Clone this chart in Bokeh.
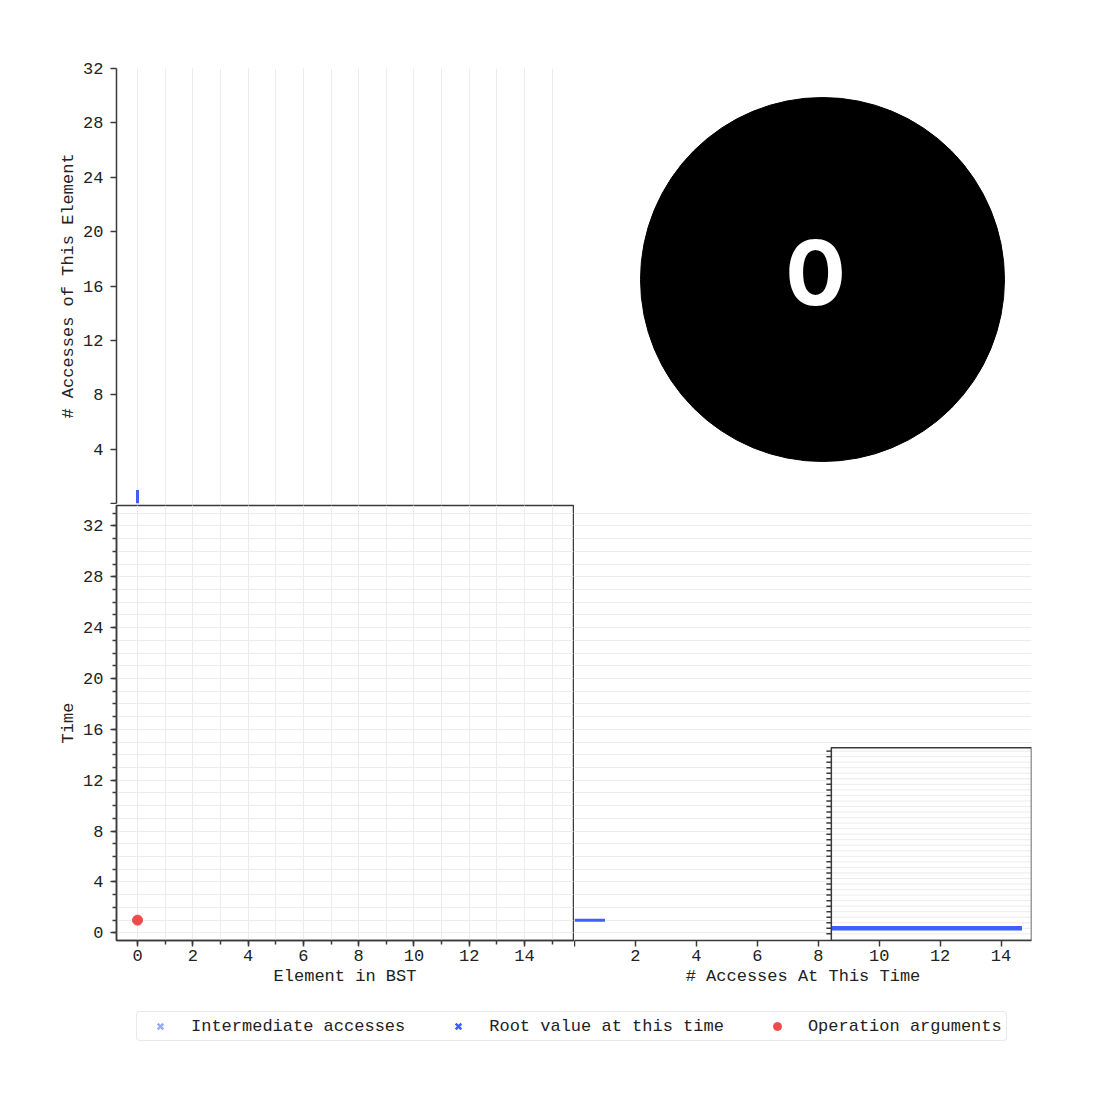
from bokeh.plotting import figure
from bokeh.layouts import column, row
from bokeh.models import Range1d, SingleIntervalTicker, Grid, Legend, LegendItem
from bokeh.core.properties import value
from bokeh.embed import file_html
from bokeh.resources import INLINE

# ---- data -------------------------------------------------------------
current_time = 0

# accesses per element (top histogram)
element_ids = [0]
element_access_counts = [1]

# accesses per time step (right histogram)
time_steps = [1]
accesses_per_time = [1]

# operation arguments
op_times = [1]
op_args = [0]

# intermediate node accesses and root value over time
intermediate_elements = []
intermediate_times = []
root_elements = []
root_times = []

# ---- style ------------------------------------------------------------
MONO = "Liberation Mono"
FS = "17px"
INK = "#222222"
AXIS = "#3a3a3a"
GRID = "#ececec"
BLUE = "#3f5efb"
LIGHT_BLUE = "#9aabff"
RED = "#ef4b4b"


def style_axis(ax, label_standoff=7, title_standoff=2):
    ax.axis_line_color = AXIS
    ax.axis_line_width = 1.5
    ax.major_tick_line_color = AXIS
    ax.minor_tick_line_color = AXIS
    ax.major_tick_line_width = 1.5
    ax.minor_tick_line_width = 1.5
    ax.major_tick_out = 6
    ax.major_tick_in = 0
    ax.minor_tick_out = 4
    ax.minor_tick_in = 0
    ax.major_label_text_font = MONO
    ax.major_label_text_font_size = FS
    ax.major_label_text_color = INK
    ax.axis_label_text_font = MONO
    ax.axis_label_text_font_size = FS
    ax.axis_label_text_font_style = "normal"
    ax.axis_label_text_color = INK
    ax.major_label_standoff = label_standoff
    ax.axis_label_standoff = title_standoff


common = dict(output_backend="svg", toolbar_location=None)

# ---- top: accesses of each element -------------------------------------
x_elem = Range1d(-0.76, 15.77)
y_time = Range1d(-0.6, 33.6)

top = figure(frame_width=457, frame_height=435,
             min_border_left=116, min_border_right=1,
             min_border_top=68, min_border_bottom=1,
             x_range=x_elem, y_range=Range1d(0, 32),
             x_axis_location=None, **common)
top.outline_line_color = None
top.ygrid.grid_line_color = None
top.add_layout(Grid(dimension=0, ticker=SingleIntervalTicker(interval=1),
                    grid_line_color=GRID))
top.yaxis.ticker = SingleIntervalTicker(interval=4, num_minor_ticks=0)
top.yaxis.major_label_overrides = {0: ""}
top.yaxis.axis_label = "# Accesses of This Element"
style_axis(top.yaxis[0])
top.segment(x0=element_ids, y0=[0] * len(element_ids),
            x1=element_ids, y1=element_access_counts,
            line_width=3, line_color=BLUE)

# ---- top right: current time badge ------------------------------------
badge = figure(frame_width=522, frame_height=435, min_border_left=0,
               min_border_right=0, min_border_top=68, min_border_bottom=1,
               x_range=Range1d(-248, 274), y_range=Range1d(-224, 211),
               x_axis_location=None, y_axis_location=None, **common)
badge.outline_line_color = None
badge.grid.grid_line_color = None
badge.circle(x=[0], y=[0], radius=182, fill_color="black", line_color="black")
badge.text(x=[0], y=[0], text=[str(current_time)],
           x_offset=-7, y_offset=-7,
           text_font=value("Inter"), text_font_style="bold",
           text_font_size="90px", text_color="white",
           text_align="center", text_baseline="middle")

# ---- main: element vs time ---------------------------------------------
main = figure(frame_width=457, frame_height=435,
              min_border_left=116, min_border_right=1,
              min_border_top=1, min_border_bottom=61,
              x_range=x_elem, y_range=y_time, **common)
main.outline_line_color = AXIS
main.outline_line_width = 1.5
main.xaxis.ticker = SingleIntervalTicker(interval=2, num_minor_ticks=2)
main.yaxis.ticker = SingleIntervalTicker(interval=4, num_minor_ticks=4)
main.xaxis.axis_label = "Element in BST"
main.yaxis.axis_label = "Time"
style_axis(main.xaxis[0], label_standoff=3, title_standoff=3)
style_axis(main.yaxis[0])
for g in (main.xgrid, main.ygrid):
    g.grid_line_color = GRID
    g.minor_grid_line_color = GRID

main.scatter(intermediate_elements, intermediate_times, marker="x",
             size=8, line_width=2.5, color=LIGHT_BLUE)
main.scatter(root_elements, root_times, marker="x",
             size=8, line_width=2.5, color=BLUE)
main.scatter(op_args, op_times, marker="circle", size=10,
             fill_color=RED, line_color=RED)

# ---- right: accesses at each time --------------------------------------
side = figure(frame_width=457, frame_height=435,
              min_border_left=0, min_border_right=65,
              min_border_top=1, min_border_bottom=61,
              x_range=Range1d(0, 15), y_range=y_time,
              y_axis_location=None, **common)
side.outline_line_color = None
side.xgrid.grid_line_color = None
side.add_layout(Grid(dimension=1, ticker=SingleIntervalTicker(interval=1),
                     grid_line_color=GRID))
side.xaxis.ticker = SingleIntervalTicker(interval=2, num_minor_ticks=0)
side.xaxis.major_label_overrides = {0: ""}
side.xaxis.axis_label = "# Accesses At This Time"
style_axis(side.xaxis[0], label_standoff=3, title_standoff=3)
side.segment(x0=[0] * len(time_steps), y0=time_steps,
             x1=accesses_per_time, y1=time_steps,
             line_width=3, line_color=BLUE)

# zoomed overview of the same counts, in a small panel
inset_x = Range1d(0, 1.05)
inset_y = Range1d(-1.2, 33.6)
inset = side.subplot(x_source=inset_x, y_source=inset_y,
                     x_target=Range1d(8.43, 15), y_target=Range1d(-0.6, 14.55))
inset.quad(left=inset_x.start, right=inset_x.end,
           bottom=inset_y.start, top=inset_y.end,
           fill_color="white", line_color=None)
levels = list(range(0, 34))
inset.segment(x0=inset_x.start, x1=inset_x.end, y0=levels, y1=levels,
              line_color=GRID, line_width=1)
inset.segment(x0=-0.026, x1=inset_x.start, y0=levels, y1=levels,
              line_color=AXIS, line_width=1.5)
inset.segment(x0=[0] * len(time_steps), y0=time_steps,
              x1=accesses_per_time, y1=time_steps,
              line_width=4.5, line_color=BLUE)
inset.quad(left=inset_x.start, right=inset_x.end,
           bottom=inset_y.start, top=inset_y.end,
           fill_color=None, line_color=AXIS, line_width=1.5)

# ---- legend strip ------------------------------------------------------
leg = figure(frame_width=1096, frame_height=60, min_border=0,
             x_range=Range1d(0, 1), y_range=Range1d(0, 1),
             x_axis_location=None, y_axis_location=None, **common)
leg.outline_line_color = None
leg.grid.grid_line_color = None
# swatch-only renderers: NaN positions draw nothing in the plot area
nan = [float("nan")]
r_inter = leg.scatter(nan, nan, marker="x", size=8, line_width=2.5, color=LIGHT_BLUE)
r_root = leg.scatter(nan, nan, marker="x", size=8, line_width=2.5, color=BLUE)
r_ops = leg.scatter(nan, nan, marker="circle", size=9, fill_color=RED, line_color=RED)
legend = Legend(items=[
    LegendItem(label="Intermediate accesses", renderers=[r_inter]),
    LegendItem(label="Root value at this time", renderers=[r_root]),
    LegendItem(label="Operation arguments", renderers=[r_ops]),
], orientation="horizontal", location=(136, 20))
legend.padding = 4
legend.margin = 0
legend.glyph_width = 38
legend.glyph_height = 20
legend.label_standoff = 12
legend.spacing = 34
legend.label_text_font = MONO
legend.label_text_font_size = FS
legend.label_text_color = INK
legend.border_line_color = "#d4d4d4"
legend.border_line_width = 1.5
legend.background_fill_color = "white"
if "border_radius" in Legend.properties():
    legend.border_radius = 4
leg.add_layout(legend, "center")

layout = column(row(top, badge), row(main, side), leg)

with open("out.html", "w") as f:
    f.write(file_html(layout, INLINE))
